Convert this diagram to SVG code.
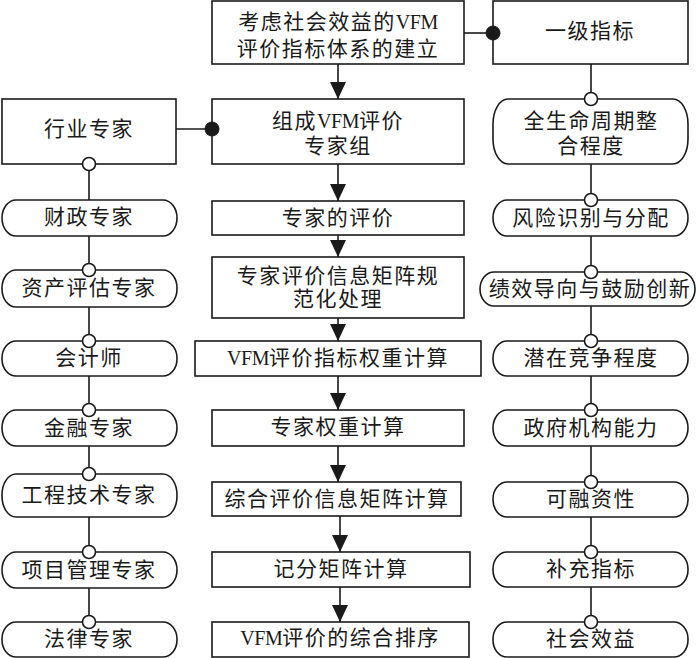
<svg xmlns="http://www.w3.org/2000/svg" width="700" height="658" viewBox="0 0 700 658">
<style>
.box{fill:#fff;stroke:#1a1a1a;stroke-width:1.6}
.t{font-family:"Liberation Serif","Noto Sans CJK SC",serif;font-size:21px;letter-spacing:1.5px;text-anchor:middle;dominant-baseline:central;fill:#1a1a1a}
.v{font-size:20px;letter-spacing:-0.5px}
.ln{stroke:#1a1a1a;stroke-width:1.6;fill:none}
.oc{fill:#fff;stroke:#1a1a1a;stroke-width:1.6}
.fc{fill:#1a1a1a;stroke:#1a1a1a;stroke-width:1}
</style>
<defs>
<marker id="ah" markerUnits="userSpaceOnUse" markerWidth="18" markerHeight="18" viewBox="0 0 18 18" refX="17" refY="9" orient="auto">
<path d="M0,1 L17,9 L0,17 Z" fill="#1a1a1a"/>
</marker>
</defs>
<g id="connectors">
<line class="ln" x1="338" y1="64" x2="338" y2="99" marker-end="url(#ah)"/>
<line class="ln" x1="338" y1="164" x2="338" y2="201" marker-end="url(#ah)"/>
<line class="ln" x1="338" y1="235" x2="338" y2="257" marker-end="url(#ah)"/>
<line class="ln" x1="338" y1="318" x2="338" y2="341" marker-end="url(#ah)"/>
<line class="ln" x1="338" y1="376" x2="338" y2="410" marker-end="url(#ah)"/>
<line class="ln" x1="338" y1="446" x2="338" y2="482" marker-end="url(#ah)"/>
<line class="ln" x1="340" y1="516" x2="340" y2="552" marker-end="url(#ah)"/>
<line class="ln" x1="340" y1="587" x2="340" y2="622" marker-end="url(#ah)"/>
<line class="ln" x1="464" y1="33" x2="493" y2="33"/>
<line class="ln" x1="176" y1="129" x2="212" y2="129"/>
<line class="ln" x1="89" y1="164" x2="89" y2="200"/>
<line class="ln" x1="89" y1="236" x2="89" y2="270"/>
<line class="ln" x1="89" y1="307" x2="89" y2="341"/>
<line class="ln" x1="89" y1="376" x2="89" y2="410"/>
<line class="ln" x1="89" y1="446" x2="89" y2="474"/>
<line class="ln" x1="89" y1="517" x2="89" y2="552"/>
<line class="ln" x1="89" y1="588" x2="89" y2="622"/>
<line class="ln" x1="591" y1="64" x2="591" y2="99"/>
<line class="ln" x1="591" y1="164" x2="591" y2="200"/>
<line class="ln" x1="591" y1="236" x2="591" y2="272"/>
<line class="ln" x1="591" y1="306" x2="591" y2="341"/>
<line class="ln" x1="591" y1="376" x2="591" y2="410"/>
<line class="ln" x1="591" y1="446" x2="591" y2="482"/>
<line class="ln" x1="591" y1="517" x2="591" y2="552"/>
<line class="ln" x1="591" y1="587" x2="591" y2="622"/>
</g>
<g id="n-top"><rect class="box" x="212" y="1" width="252" height="63"/>
<text class="t" x="338" y="22">考虑社会效益的<tspan class="v">VFM</tspan></text>
<text class="t" x="338" y="49">评价指标体系的建立</text></g>
<g id="n-level1"><rect class="box" x="493" y="1" width="195" height="63"/>
<text class="t" x="590" y="31">一级指标</text></g>
<g id="n-group"><rect class="box" x="212" y="99" width="252" height="65"/>
<text class="t" x="338" y="121">组成<tspan class="v">VFM</tspan>评价</text>
<text class="t" x="338" y="146">专家组</text></g>
<g id="n-industry"><rect class="box" x="2" y="99" width="174" height="65"/>
<text class="t" x="89" y="129">行业专家</text></g>
<g id="n-eval"><rect class="box" x="212" y="201" width="252" height="34"/>
<text class="t" x="338" y="218">专家的评价</text></g>
<g id="n-norm"><rect class="box" x="212" y="257" width="252" height="61"/>
<text class="t" x="338" y="276">专家评价信息矩阵规</text>
<text class="t" x="338" y="299">范化处理</text></g>
<g id="n-weight"><rect class="box" x="195" y="341" width="286" height="35"/>
<text class="t" x="338" y="358"><tspan class="v">VFM</tspan>评价指标权重计算</text></g>
<g id="n-expw"><rect class="box" x="212" y="410" width="252" height="36"/>
<text class="t" x="338" y="427">专家权重计算</text></g>
<g id="n-comp"><rect class="box" x="212" y="482" width="249" height="34"/>
<text class="t" x="337" y="499">综合评价信息矩阵计算</text></g>
<g id="n-score"><rect class="box" x="212" y="552" width="258" height="35"/>
<text class="t" x="341" y="569">记分矩阵计算</text></g>
<g id="n-rank"><rect class="box" x="212" y="622" width="257" height="35"/>
<text class="t" x="340" y="638"><tspan class="v">VFM</tspan>评价的综合排序</text></g>
<g id="n-l1"><rect class="box" x="2" y="200" width="175" height="36" rx="14" ry="18"/><text class="t" x="89" y="217">财政专家</text></g>
<g id="n-l2"><rect class="box" x="2" y="270" width="175" height="37" rx="14" ry="18"/><text class="t" x="89" y="288">资产评估专家</text></g>
<g id="n-l3"><rect class="box" x="2" y="341" width="175" height="35" rx="14" ry="17"/><text class="t" x="89" y="358">会计师</text></g>
<g id="n-l4"><rect class="box" x="2" y="410" width="175" height="36" rx="14" ry="18"/><text class="t" x="89" y="428">金融专家</text></g>
<g id="n-l5"><rect class="box" x="2" y="474" width="175" height="43" rx="14" ry="21"/><text class="t" x="89" y="495">工程技术专家</text></g>
<g id="n-l6"><rect class="box" x="2" y="552" width="175" height="36" rx="14" ry="18"/><text class="t" x="89" y="570">项目管理专家</text></g>
<g id="n-l7"><rect class="box" x="2" y="622" width="175" height="35" rx="14" ry="17"/><text class="t" x="89" y="639">法律专家</text></g>
<g id="n-r1"><rect class="box" x="493" y="99" width="195" height="65" rx="15" ry="25"/>
<text class="t" x="591" y="121">全生命周期整</text><text class="t" x="591" y="146">合程度</text></g>
<g id="n-r2"><rect class="box" x="493" y="200" width="195" height="36" rx="14" ry="18"/><text class="t" x="591" y="218">风险识别与分配</text></g>
<g id="n-r3"><rect class="box" x="480" y="272" width="215" height="34" rx="14" ry="17"/><text class="t" x="590" y="289">绩效导向与鼓励创新</text></g>
<g id="n-r4"><rect class="box" x="493" y="341" width="195" height="35" rx="14" ry="17"/><text class="t" x="591" y="358">潜在竞争程度</text></g>
<g id="n-r5"><rect class="box" x="493" y="410" width="195" height="36" rx="14" ry="18"/><text class="t" x="591" y="428">政府机构能力</text></g>
<g id="n-r6"><rect class="box" x="493" y="482" width="195" height="35" rx="14" ry="17"/><text class="t" x="591" y="499">可融资性</text></g>
<g id="n-r7"><rect class="box" x="493" y="552" width="195" height="35" rx="14" ry="17"/><text class="t" x="591" y="569">补充指标</text></g>
<g id="n-r8"><rect class="box" x="493" y="622" width="195" height="35" rx="14" ry="17"/><text class="t" x="591" y="639">社会效益</text></g>
<g id="joints">
<circle class="fc" cx="493" cy="33" r="7"/>
<circle class="fc" cx="212" cy="129" r="7"/>
<circle class="oc" cx="89" cy="164" r="6.5"/>
<circle class="oc" cx="89" cy="270" r="6.5"/>
<circle class="oc" cx="89" cy="341" r="6.5"/>
<circle class="oc" cx="89" cy="410" r="6.5"/>
<circle class="oc" cx="89" cy="474" r="6.5"/>
<circle class="oc" cx="89" cy="552" r="6.5"/>
<circle class="oc" cx="89" cy="622" r="6.5"/>
<circle class="oc" cx="591" cy="99" r="6.5"/>
<circle class="oc" cx="591" cy="200" r="6.5"/>
<circle class="oc" cx="591" cy="272" r="6.5"/>
<circle class="oc" cx="591" cy="341" r="6.5"/>
<circle class="oc" cx="591" cy="410" r="6.5"/>
<circle class="oc" cx="591" cy="482" r="6.5"/>
<circle class="oc" cx="591" cy="552" r="6.5"/>
<circle class="oc" cx="591" cy="622" r="6.5"/>
</g>
</svg>
